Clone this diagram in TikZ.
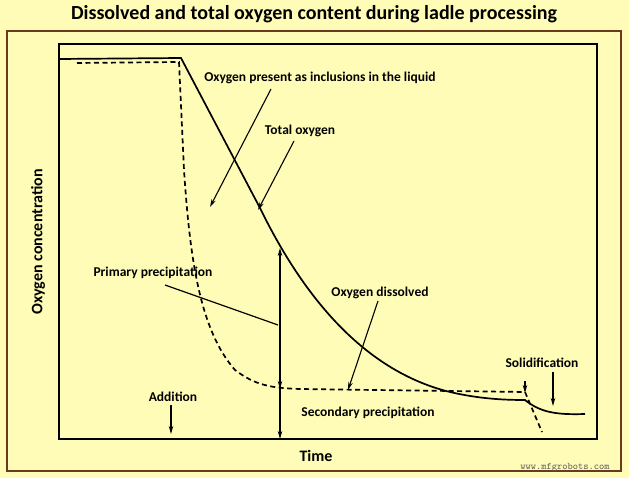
\documentclass[tikz,border=0pt]{standalone}
\usepackage{fontspec}
\setmainfont{Carlito}
\usetikzlibrary{arrows.meta}
\definecolor{bg}{HTML}{FFFCB8}
\definecolor{brd}{HTML}{6B3A1E}
\tikzset{lbl/.style={font=\bfseries\fontsize{13.5}{15}\selectfont,inner sep=0pt},
 arr/.style={-{Stealth[length=8pt,width=4.5pt]},line width=1.1pt},
 curve/.style={line width=1.7pt}}
\begin{document}
\begin{tikzpicture}[x=1pt,y=-1pt]
\useasboundingbox (0,0) rectangle (629,478);
\fill[bg] (0,0) rectangle (629,478);
\draw[brd,line width=1.8pt] (7,31) rectangle (621,471);
\node[font=\bfseries\fontsize{20}{22}\selectfont,inner sep=0pt] (title) at (314,14) {Dissolved and total oxygen content during ladle processing};
\draw[line width=2.2pt] (59,44) rectangle (597,439);
\node[lbl,font=\bfseries\fontsize{16}{18}\selectfont,rotate=90] (ylab) at (38,242) {Oxygen concentration};
\node[lbl,font=\bfseries\fontsize{16}{18}\selectfont] (xlab) at (316,456) {Time};
% total oxygen
\draw[curve] (59,59) -- (181,58) -- (260,208) .. controls (300,290) and (360,370) .. (450,392) .. controls (480,399) and (505,400) .. (525,400) .. controls (540,412) and (555,415) .. (585,414);
% dissolved
\draw[curve,dash pattern=on 5pt off 3.5pt] (77,63) -- (179,62) -- (184,170) .. controls (190,260) and (200,330) .. (235,370) .. controls (255,385) and (270,388) .. (300,389) -- (525,392) -- (542,432);
% labels
\node[lbl] (incl) at (320,78) {Oxygen present as inclusions in the liquid};
\coordinate (inclE) at (210,207);
\draw[arr] (271,89) -- (inclE);
\node[lbl] (tot) at (300,131) {Total oxygen};
\coordinate (totE) at (258,210);
\draw[arr] (294,141) -- (totE);
\node[lbl] (prim) at (153,273) {Primary precipitation};
\coordinate (primE) at (278,325);
\draw[line width=1.2pt] (165,285) -- (primE);
\coordinate (vb) at (280,439);
\coordinate (vt) at (280,248);
\coordinate (vm) at (280,389);
\draw[arr] (280,400) -- (vt);
\draw[arr] (280,375) -- (vm);
\draw[arr] (280,395) -- (vb);
\node[lbl] (sec) at (368,413) {Secondary precipitation};
\node[lbl] (diss) at (380,293) {Oxygen dissolved};
\coordinate (dissE) at (348,390);
\draw[arr] (378,301) -- (dissE);
\node[lbl] (add) at (173,397) {Addition};
\coordinate (addE) at (171,434);
\draw[arr] (171,405) -- (addE);
\node[lbl] (sol) at (542,363) {Solidification};
\coordinate (s1) at (525,393);
\coordinate (s2) at (553,406);
\draw[arr] (525,381) -- (s1);
\draw[arr] (553,372) -- (s2);
\node[font=\ttfamily\fontsize{10}{11}\selectfont,inner sep=0pt,gray!70!black] (wm) at (565,468) {www.mfgrobots.com};
\end{tikzpicture}
\end{document}
